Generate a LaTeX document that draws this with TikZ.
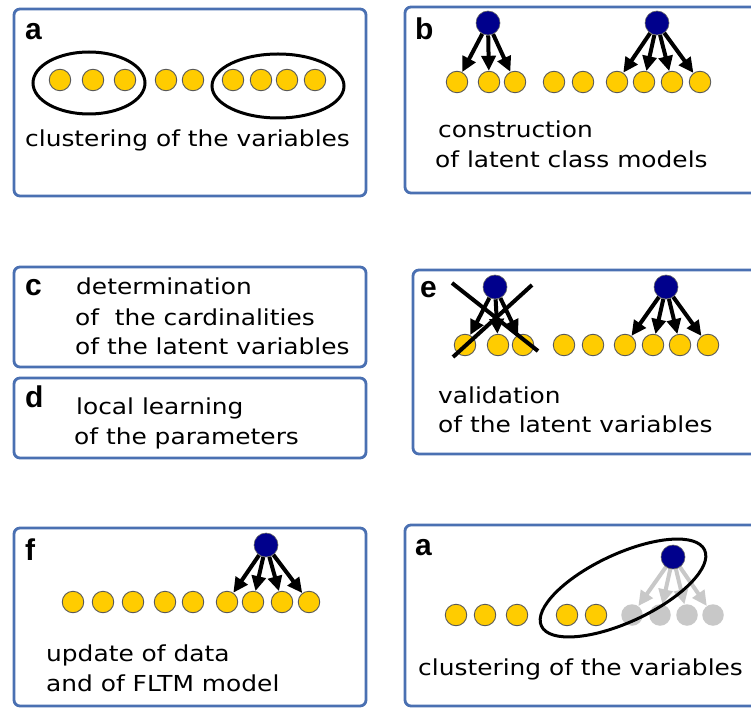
\documentclass[tikz,border=0pt]{standalone}
\usepackage{fontspec}
\usetikzlibrary{arrows.meta,shapes.geometric}
\newfontfamily\txtfont[FakeStretch=1.13]{DejaVu Sans}
\newfontfamily\labfont{Liberation Sans}
\definecolor{boxblue}{RGB}{74,112,178}
\definecolor{yel}{RGB}{255,204,0}
\definecolor{navy}{RGB}{0,0,140}
\definecolor{lgray}{RGB}{200,200,200}
\begin{document}
\begin{tikzpicture}[x=1pt,y=-1pt,
 panel/.style={draw=boxblue,line width=2.8pt,rounded corners=6pt},
 obs/.style={circle,fill=yel,draw=black!65,line width=0.9pt,minimum size=21.5pt,inner sep=0pt},
 lat/.style={circle,fill=navy,draw=black!60,line width=0.6pt,minimum size=24pt,inner sep=0pt},
 ghost/.style={circle,fill=lgray,minimum size=21.5pt,inner sep=0pt},
 edge/.style={line width=4pt,-{Triangle[length=15pt,width=14pt]}},
 gedge/.style={edge,draw=lgray},
 cross/.style={line width=4pt},
 txt/.style={anchor=base west,inner sep=0pt,font=\txtfont\fontsize{22}{26}\selectfont},
 lab/.style={anchor=base west,inner sep=0pt,font=\labfont\bfseries\fontsize{30}{30}\selectfont},
 clus/.style={ellipse,draw=black,line width=3pt,inner sep=0pt}]

\useasboundingbox (0,0) rectangle (751,708);
\clip (0,0) rectangle (751,708);
\fill[white] (0,0) rectangle (751,708);

% panels
\draw[panel] (14,9) rectangle (366,196);
\draw[panel] (405,7) rectangle (775,193);
\draw[panel] (14,267) rectangle (366,367);
\draw[panel] (14,378) rectangle (366,458);
\draw[panel] (413,270) rectangle (775,454);
\draw[panel] (14,528) rectangle (366,706);
\draw[panel] (405,525) rectangle (775,706);

% ---------- panel a (top left)
\node[lab] (la) at (25,40) {a};
\node[clus,minimum width=112pt,minimum height=62pt] (ca1) at (89,83) {};
\node[clus,minimum width=132pt,minimum height=64pt] (ca2) at (278,86) {};
\foreach \x [count=\i] in {60,93,125,166,193,233,261,287,315}
  \node[obs] (a\i) at (\x,80) {};
\node[txt] (ta) at (25,147) {clustering of the variables};

% ---------- panel b
\node[lab] (lb) at (415,40) {b};
\node[lat] (bh1) at (488,23) {};
\node[lat] (bh2) at (657,23) {};
\foreach \x [count=\i] in {457,489,515,554,583,617,644,672,700}
  \node[obs] (b\i) at (\x,82) {};
\foreach \i in {1,2,3} \draw[edge] (bh1) -- (b\i);
\foreach \i in {6,7,8,9} \draw[edge] (bh2) -- (b\i);
\node[txt] (tb1) at (438,138) {construction};
\node[txt] (tb2) at (435,168) {of latent class models};

% ---------- panel c
\node[lab] (lc) at (25,295) {c};
\node[txt] (tc1) at (76,294) {determination};
\node[txt] (tc2) at (75,325) {of~ the cardinalities};
\node[txt] (tc3) at (75,354) {of the latent variables};

% ---------- panel d
\node[lab] (ld) at (25,407) {d};
\node[txt] (td1) at (76,414) {local learning};
\node[txt] (td2) at (74,444) {of the parameters};

% ---------- panel e
\node[lab] (le) at (420,297) {e};
\node[lat] (eh1) at (495,287) {};
\node[lat] (eh2) at (666,287) {};
\foreach \x [count=\i] in {465,498,523,564,593,625,653,680,708}
  \node[obs] (e\i) at (\x,345) {};
\foreach \i in {1,2,3} \draw[edge] (eh1) -- (e\i);
\foreach \i in {6,7,8,9} \draw[edge] (eh2) -- (e\i);
\coordinate (x1a) at (452,283);
\coordinate (x1b) at (538,351);
\coordinate (x2a) at (532,285);
\coordinate (x2b) at (453,357);
\draw[cross] (x1a) -- (x1b);
\draw[cross] (x2a) -- (x2b);
\node[txt] (te1) at (438,403) {validation};
\node[txt] (te2) at (438,432) {of the latent variables};

% ---------- panel f
\node[lab] (lf) at (25,560) {f};
\node[lat] (fh) at (266,545) {};
\foreach \x [count=\i] in {73,103,133,165,193,227,253,282,309}
  \node[obs] (f\i) at (\x,602) {};
\foreach \i in {6,7,8,9} \draw[edge] (fh) -- (f\i);
\node[txt] (tf1) at (46,661) {update of data};
\node[txt] (tf2) at (46,691) {and of FLTM model};

% ---------- panel a (bottom right)
\node[lab] (la2) at (415,555) {a};
\foreach \x [count=\i] in {632,660,687,713}
  \node[ghost] (g\i) at (\x,615) {};
\coordinate (gh) at (673,557);
\foreach \i in {1,2,3,4} \draw[gedge] (gh) -- (g\i);
\foreach \x [count=\i] in {456,485,517,567,596}
  \node[obs] (h\i) at (\x,615) {};
\node[clus,rotate=25,minimum width=180pt,minimum height=68pt] (ca3) at (623,588) {};
\node[lat] (hh) at (gh) {};
\node[txt] (ta2) at (418,675) {clustering of the variables};
\end{tikzpicture}
\end{document}
